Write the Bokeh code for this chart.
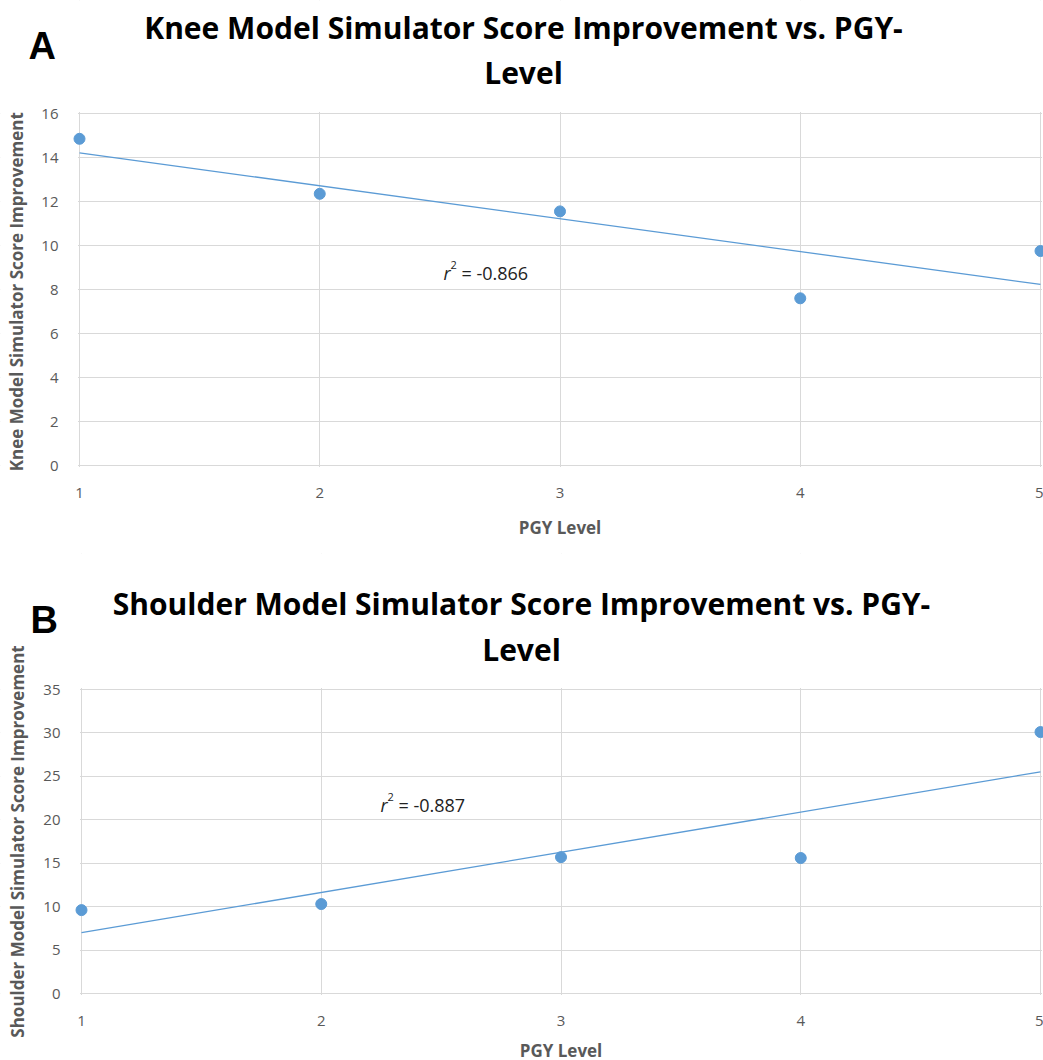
import numpy as np
from bokeh.plotting import figure
from bokeh.layouts import column
from bokeh.models import Label, BoxAnnotation, Range1d, FixedTicker
from bokeh.embed import file_html
from bokeh.resources import INLINE

# ---------------- data ----------------
pgy_levels = [1, 2, 3, 4, 5]
pgy_tick_labels = ["1", "2", "3", "4", "5"]

knee_improvement = [14.85, 12.35, 11.55, 7.6, 9.75]
shoulder_improvement = [9.6, 10.3, 15.7, 15.6, 30.1]

knee_yticks = [0, 2, 4, 6, 8, 10, 12, 14, 16]
shoulder_yticks = [0, 5, 10, 15, 20, 25, 30, 35]

knee_title = ["Knee Model Simulator Score Improvement vs. PGY-", "Level"]
shoulder_title = ["Shoulder Model Simulator Score Improvement vs. PGY-", "Level"]
knee_ylabel = "Knee Model  Simulator Score Improvement"
shoulder_ylabel = "Shoulder Model Simulator Score Improvement"
xlabel = "PGY Level"
knee_r2 = "= -0.866"
shoulder_r2 = "= -0.887"

# ---------------- style ----------------
BLUE = "#5b9bd5"
GRID = "#d9d9d9"
TICK = "#595959"
FONT = "Open Sans"
PAGE_W = 1043


def panel(letter, title_lines, ylabel, ys, yticks, r2_text, geo):
    """geo holds pixel geometry of this panel (canvas-relative pixels)."""
    H = geo["height"]
    px1, px5 = geo["x_first"], geo["x_last"]      # pixel x of first / last PGY level
    py_top, py_0 = geo["y_top"], geo["y_zero"]     # pixel y of top tick / zero
    x0, x1 = pgy_levels[0], pgy_levels[-1]
    y0, y1 = yticks[0], yticks[-1]
    kx = (px5 - px1) / (x1 - x0)
    ky = (py_0 - py_top) / (y1 - y0)

    def dx(px):
        return x0 + (px - px1) / kx

    def dy(py):
        return y0 + (py_0 - py) / ky

    p = figure(width=PAGE_W, height=H, output_backend="svg", toolbar_location=None,
               min_border=0,
               x_range=Range1d(dx(0), dx(PAGE_W)),
               y_range=Range1d(dy(H), dy(0)))
    p.title.visible = False
    p.outline_line_color = None
    p.background_fill_color = "white"
    p.border_fill_color = "white"

    # axes, pinned to the data frame of the chart
    p.xaxis.ticker = FixedTicker(ticks=pgy_levels)
    p.xaxis.major_label_overrides = {v: t for v, t in zip(pgy_levels, pgy_tick_labels)}
    p.yaxis.ticker = FixedTicker(ticks=yticks)
    p.xaxis.fixed_location = y0
    p.yaxis.fixed_location = x0
    p.xaxis.bounds = (x0, x1)
    p.yaxis.bounds = (y0, y1)
    for ax in (p.xaxis[0], p.yaxis[0]):
        ax.axis_line_color = None
        ax.major_tick_line_color = None
        ax.minor_tick_line_color = None
        ax.major_tick_out = 0
        ax.major_tick_in = 0
        ax.major_label_text_font = FONT
        ax.major_label_text_font_size = "15px"
        ax.major_label_text_color = TICK
        ax.axis_label_text_font = FONT
        ax.axis_label_text_font_style = "bold"
        ax.axis_label_text_font_size = "17px"
        ax.axis_label_text_color = TICK
    p.xaxis.axis_label = xlabel
    p.yaxis.axis_label = ylabel
    p.xaxis.major_label_standoff = geo["x_std"][0]
    p.xaxis.axis_label_standoff = geo["x_std"][1]
    p.yaxis.major_label_standoff = geo["y_std"][0]
    p.yaxis.axis_label_standoff = geo["y_std"][1]

    p.xgrid.grid_line_color = GRID
    p.ygrid.grid_line_color = GRID

    # keep the gridlines inside the plot area
    e = 1.5
    for kw in (dict(right=dx(px1 - e)), dict(left=dx(px5 + e)),
               dict(bottom=dy(py_top - e)), dict(top=dy(py_0 + e))):
        p.add_layout(BoxAnnotation(level="underlay", fill_color="white", fill_alpha=1,
                                   line_color=None, **kw))

    # trendline (least squares through the data)
    slope, intercept = np.polyfit(pgy_levels, ys, 1)
    tx = [x0, x1]
    ty = [slope * v + intercept for v in tx]
    p.line(tx, ty, line_color=BLUE, line_width=1.3)
    p.scatter(pgy_levels, ys, size=11, fill_color=BLUE, line_color=BLUE)

    # r^2 annotation
    rx, ry = dx(geo["r2"][0]), dy(geo["r2"][1])
    p.add_layout(Label(x=rx, y=ry, text="r", text_font=FONT, text_font_style="italic",
                       text_font_size="18px", text_color="#222222",
                       text_baseline="alphabetic"))
    p.add_layout(Label(x=rx, y=ry, x_offset=7, y_offset=8, text="2", text_font=FONT,
                       text_font_size="11px", text_color="#222222",
                       text_baseline="alphabetic"))
    p.add_layout(Label(x=rx, y=ry, x_offset=18, text=r2_text, text_font=FONT,
                       text_font_size="18px", text_color="#222222",
                       text_baseline="alphabetic"))

    # two-line title and panel letter
    tcx, b1, b2 = geo["title"]
    for txt, by in zip(title_lines, (b1, b2)):
        p.add_layout(Label(x=dx(tcx), y=dy(by), text=txt,
                           text_align="center", text_baseline="alphabetic",
                           text_font=FONT, text_font_style="bold",
                           text_font_size="30px", text_color="black"))
    lx, ly = geo["letter"]
    p.add_layout(Label(x=dx(lx), y=dy(ly), text=letter,
                       text_align="left", text_baseline="alphabetic",
                       text_font="Liberation Sans", text_font_style="bold",
                       text_font_size="38px", text_color="black"))
    return p


geo_a = dict(height=553, x_first=79, x_last=1040, y_top=113, y_zero=465,
             x_std=(22, 15), y_std=(21, 10), r2=(443, 272),
             title=(523, 27, 72), letter=(28, 45))
geo_b = dict(height=507, x_first=81, x_last=1040, y_top=689 - 553, y_zero=993 - 553,
             x_std=(22, 10), y_std=(21, 11), r2=(380, 804 - 553),
             title=(521, 603 - 553, 649 - 553), letter=(30, 619 - 553))

pa = panel("A", knee_title, knee_ylabel, knee_improvement, knee_yticks, knee_r2, geo_a)
pb = panel("B", shoulder_title, shoulder_ylabel, shoulder_improvement, shoulder_yticks,
           shoulder_r2, geo_b)

layout = column(pa, pb, spacing=0)
open("out.html", "w").write(file_html(layout, INLINE))
